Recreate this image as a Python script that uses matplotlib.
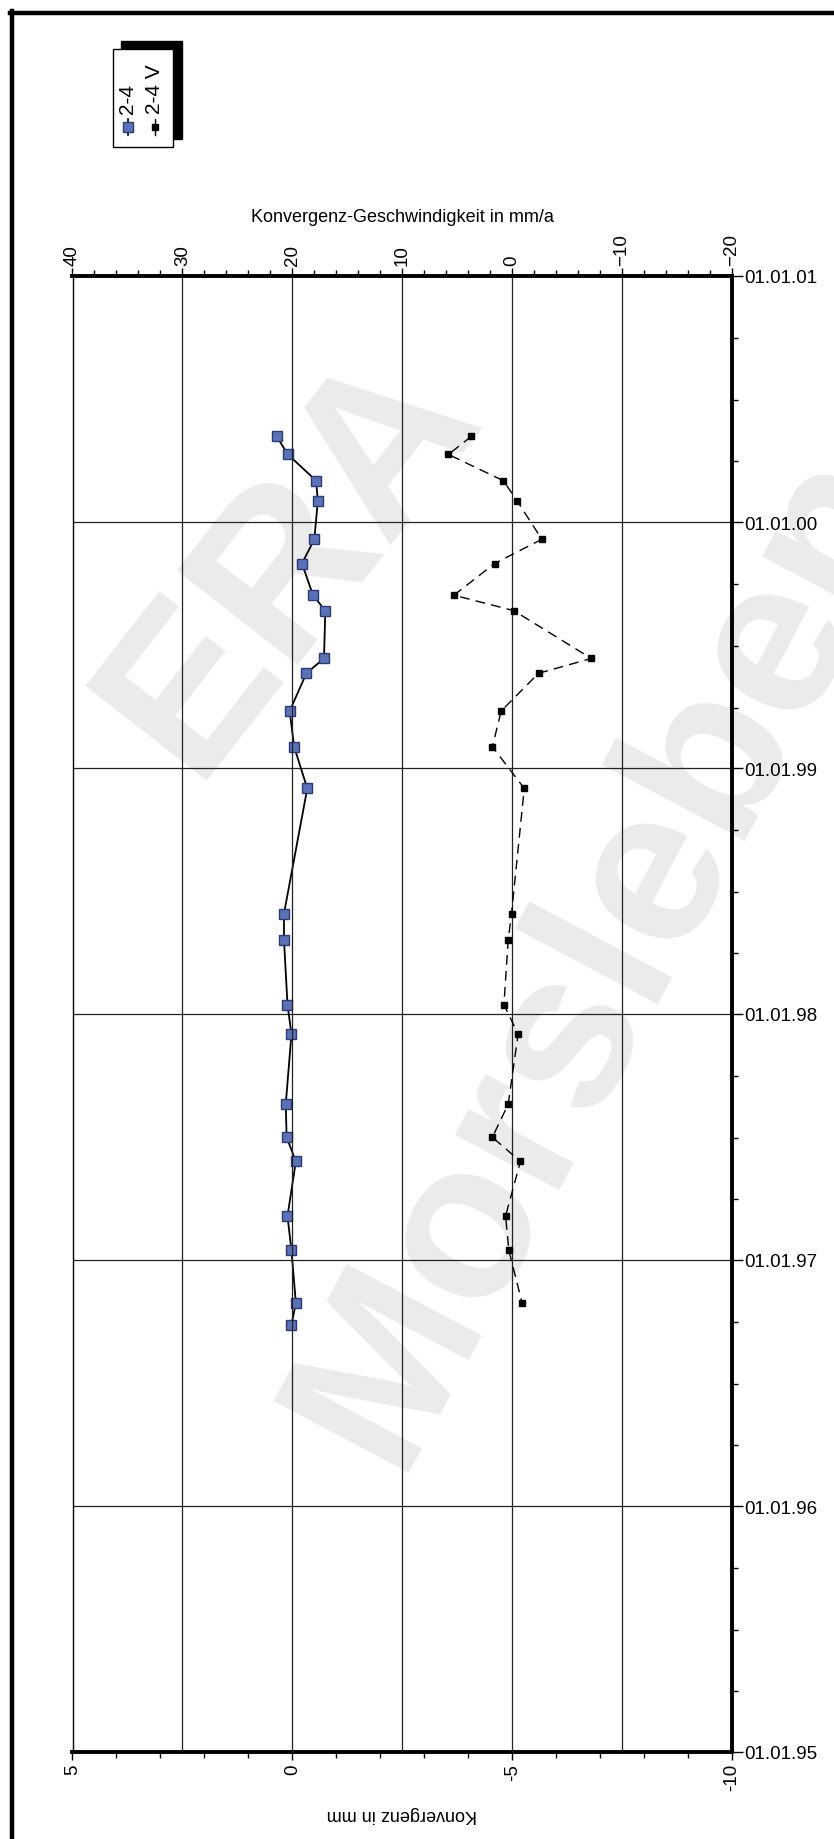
import matplotlib
matplotlib.use("Agg")
import matplotlib.pyplot as plt
import matplotlib.dates as mdates
from matplotlib.ticker import MultipleLocator
from matplotlib.patches import Rectangle
from matplotlib.lines import Line2D
import numpy as np

plt.rcParams["font.family"] = ["Liberation Sans", "DejaVu Sans"]

dates = ['2000-05-08', '2000-04-11', '2000-03-03', '2000-02-02', '1999-12-07',
         '1999-11-01', '1999-09-15', '1999-08-23', '1999-06-13', '1999-05-22',
         '1999-03-27', '1999-02-02', '1998-12-02', '1998-05-30', '1998-04-21',
         '1998-01-15', '1997-12-02', '1997-08-20', '1997-07-02', '1997-05-27',
         '1997-03-07', '1997-01-15', '1996-10-29', '1996-09-26']

# 2-4 : Konvergenz in mm
konv_mm = [0.36, 0.10, -0.54, -0.58, -0.50, -0.22, -0.47, -0.75, -0.72, -0.32,
           0.06, -0.04, -0.34, 0.19, 0.19, 0.11, 0.02, 0.15, 0.13, -0.08,
           0.11, 0.02, -0.08, 0.02]

# 2-4 V : Konvergenz-Geschwindigkeit in mm/a (no value for the first date)
rate_mma = [3.7, 5.8, 0.8, -0.45, -2.7, 1.6, 5.3, -0.15, -7.2, -2.4,
            1.0, 1.8, -1.1, 0.06, 0.36, 0.75, -0.54, 0.36, 1.8, -0.75,
            0.6, 0.3, -0.9]

t = np.array(dates, dtype='datetime64[D]')
t_rate = t[:len(rate_mma)]

W, H = 834, 1840
fig = plt.figure(figsize=(W / 100, H / 100), dpi=100)
fig.patch.set_facecolor('white')

def fx(px):
    return px / W

def fy(py):
    return 1 - py / H

# watermark
fig.text(fx(290), fy(560), 'ERA', fontsize=160, fontweight='bold', color='#ebebeb',
         rotation=52, ha='center', va='center', zorder=-5)
fig.text(fx(604), fy(955), 'Morsleben', fontsize=160, fontweight='bold', color='#ebebeb',
         rotation=62, ha='center', va='center', zorder=-5)

left, right, top, bottom = 72.5, 732, 277, 1753
ax = fig.add_axes([fx(left), fy(bottom), (right - left) / W, (bottom - top) / H])
ax.patch.set_visible(False)

ax.plot(konv_mm, t, color='black', lw=1.3, marker='s', ms=7.5,
        mfc='#5a72b6', mec='#2c3b78', mew=1.0, zorder=4)
ax.set_xlim(5, -10)
ax.set_ylim(np.datetime64('1995-01-01'), np.datetime64('2001-01-01'))

ax2 = ax.twiny()
ax2.plot(rate_mma, t_rate, color='black', lw=1.0, dashes=(7, 4.5), marker='s',
         ms=4.8, mfc='black', mec='black', zorder=4)
ax2.set_xlim(40, -20)

# y axis (dates) on the right
ax.yaxis.tick_right()
ax.yaxis.set_major_locator(mdates.YearLocator())
ax.yaxis.set_major_formatter(mdates.DateFormatter('%d.%m.%y'))
ax.yaxis.set_minor_locator(mdates.MonthLocator(bymonth=[4, 7, 10]))
ax.tick_params(axis='y', which='major', direction='out', length=8, width=1,
               labelsize=13.5, pad=1)
ax.tick_params(axis='y', which='minor', direction='out', length=4, width=1)

# bottom axis
ax.set_xticks([5, 0, -5, -10])
ax.set_xticklabels(['5', '0', '-5', '-10'])
ax.xaxis.set_minor_locator(MultipleLocator(1))
ax.tick_params(axis='x', which='major', direction='out', length=6, width=1,
               labelsize=13.5, labelrotation=90, pad=2)
ax.tick_params(axis='x', which='minor', direction='out', length=4, width=1)

# top axis
ax2.xaxis.set_major_locator(MultipleLocator(10))
ax2.xaxis.set_minor_locator(MultipleLocator(2))
ax2.tick_params(axis='x', which='major', direction='out', length=6, width=1,
                labelsize=13.5, labelrotation=90, pad=2)
ax2.tick_params(axis='x', which='minor', direction='out', length=4, width=1)

# grid
ax.grid(axis='y', which='major', color='#222222', lw=0.9)
ax2.grid(axis='x', which='major', color='#222222', lw=0.9)
ax.set_axisbelow(True)
ax2.set_axisbelow(True)

for s in ax2.spines.values():
    s.set_visible(False)
ax.spines['top'].set_linewidth(2.8)
ax.spines['bottom'].set_linewidth(2.8)
ax.spines['right'].set_linewidth(2.8)
ax.spines['left'].set_linewidth(1.0)

# axis titles
fig.text(fx(402), fy(217), 'Konvergenz-Geschwindigkeit in mm/a', fontsize=13,
         ha='center', va='center')
fig.text(fx(402), fy(1815), 'Konvergenz in mm', fontsize=13, rotation=180,
         ha='center', va='center')

# rotated legend with shadow
fig.add_artist(Rectangle((fx(121), fy(140)), fx(61), 98 / H, transform=fig.transFigure,
                         facecolor='black', edgecolor='black', zorder=5))
fig.add_artist(Rectangle((fx(113), fy(148)), fx(60), 98 / H, transform=fig.transFigure,
                         facecolor='white', edgecolor='black', lw=1.0, zorder=6))
fig.add_artist(Line2D([fx(128), fx(128)], [fy(120), fy(136)], transform=fig.transFigure,
                      color='black', lw=1.2, zorder=7))
fig.add_artist(Line2D([fx(128)], [fy(128)], transform=fig.transFigure, marker='s', ms=7.5,
                      mfc='#5a72b6', mec='#2c3b78', lw=0, zorder=8))
fig.add_artist(Line2D([fx(155), fx(155)], [fy(120), fy(136)], transform=fig.transFigure,
                      color='black', lw=1.0, zorder=7))
fig.add_artist(Line2D([fx(155)], [fy(128)], transform=fig.transFigure, marker='s', ms=4.8,
                      mfc='black', mec='black', lw=0, zorder=8))
fig.text(fx(128), fy(114), '2-4', fontsize=15, rotation=90, ha='center', va='bottom',
         zorder=8)
fig.text(fx(155), fy(114), '2-4 V', fontsize=15, rotation=90, ha='center', va='bottom',
         zorder=8)

# page frame (top and left edge)
fig.add_artist(Line2D([fx(10), 1], [fy(14), fy(14)], transform=fig.transFigure,
                      color='black', lw=3.2))
fig.add_artist(Line2D([fx(12), fx(12)], [fy(12), 0], transform=fig.transFigure,
                      color='black', lw=3.2))

fig.savefig('out.png', dpi=100)
